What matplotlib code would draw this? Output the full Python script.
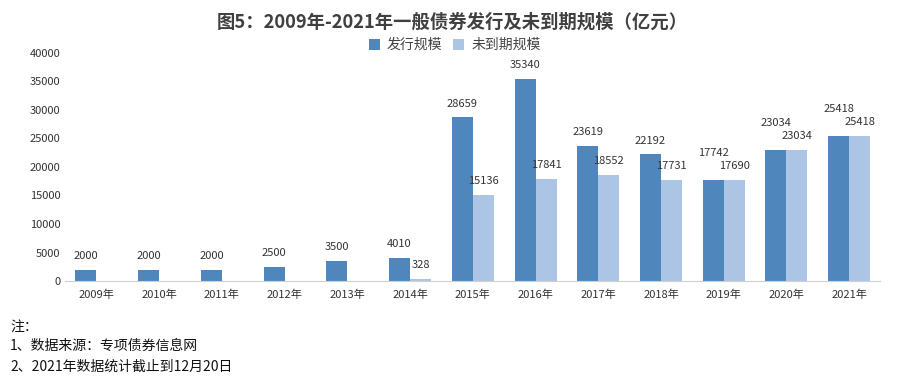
import numpy as np
import matplotlib
matplotlib.use("Agg")
import matplotlib.pyplot as plt

plt.rcParams['font.family'] = ['Noto Sans CJK SC', 'DejaVu Sans']

years = ["2009年", "2010年", "2011年", "2012年", "2013年", "2014年", "2015年",
         "2016年", "2017年", "2018年", "2019年", "2020年", "2021年"]
issued = [2000, 2000, 2000, 2500, 3500, 4010, 28659, 35340, 23619, 22192, 17742, 23034, 25418]
outstanding = [None, None, None, None, None, 328, 15136, 17841, 18552, 17731, 17690, 23034, 25418]
yticks = [0, 5000, 10000, 15000, 20000, 25000, 30000, 35000, 40000]

c_dark = "#4F87BD"
c_light = "#ADC5E5"

fig = plt.figure(figsize=(9.04, 3.82), dpi=100)
ax = fig.add_axes([0.072, 0.264, 0.902, 0.598])

x = np.arange(len(years))
w = 0.335
out_vals = [np.nan if v is None else v for v in outstanding]
b1 = ax.bar(x - w / 2, issued, w, color=c_dark, label="发行规模")
b2 = ax.bar(x + w / 2, out_vals, w, color=c_light, label="未到期规模")

# labels: 14px above bar; lift the dark one when both bars are about equal
for xi, v, o in zip(x, issued, outstanding):
    off = 10
    if o is not None and abs(v - o) < 2000:
        off = 19.5
    ax.annotate(str(v), (xi - w / 2, v), xytext=(0, off), textcoords="offset points",
                ha="center", va="center", fontsize=8, color="#333333")
for xi, v in zip(x, outstanding):
    if v is not None:
        ax.annotate(str(v), (xi + w / 2, v), xytext=(0, 10), textcoords="offset points",
                    ha="center", va="center", fontsize=8, color="#333333")

ax.set_xlim(-0.5, len(years) - 0.5)
ax.set_ylim(0, 40000)
ax.set_yticks(yticks)
ax.set_yticklabels([str(t) for t in yticks], fontsize=8, color="#333333")
ax.set_xticks(x)
ax.set_xticklabels(years, fontsize=8, color="#333333")
ax.tick_params(axis="both", length=0)
ax.tick_params(axis="x", pad=6)
for s in ["top", "right", "left"]:
    ax.spines[s].set_visible(False)
ax.spines["bottom"].set_color("#D0D0D0")

fig.text(0.5, 0.943, "图5：2009年-2021年一般债券发行及未到期规模（亿元）", ha="center", va="center",
         fontsize=13.2, fontweight="bold", color="#404040")
fig.legend(handles=[b1, b2], loc="center", bbox_to_anchor=(0.503, 0.882), ncol=2, frameon=False,
           fontsize=10, handlelength=0.8, handleheight=0.8, columnspacing=0.8, handletextpad=0.5,
           labelcolor="#444444")

fig.text(0.011, 0.144, "注：", fontsize=10, va="center", color="#111111")
fig.text(0.011, 0.094, "1、数据来源：专项债券信息网", fontsize=10, va="center", color="#111111")
fig.text(0.011, 0.040, "2、2021年数据统计截止到12月20日", fontsize=10, va="center", color="#111111")

fig.savefig("out.png", dpi=100)
